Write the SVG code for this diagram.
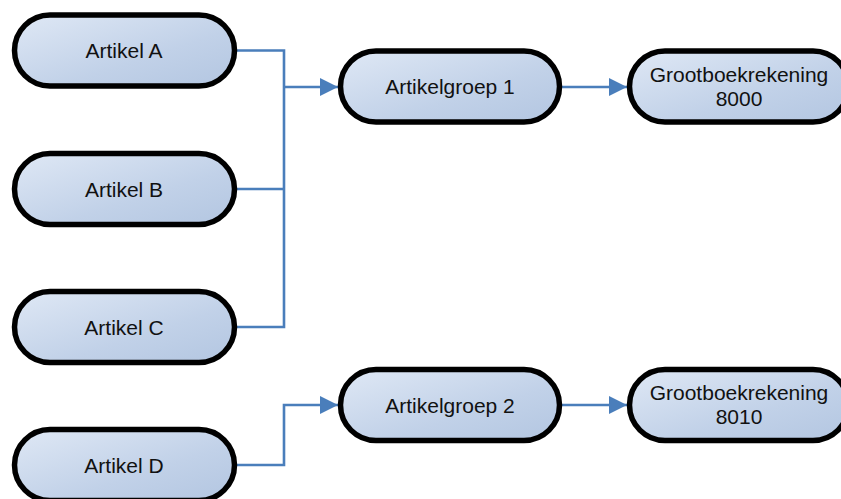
<svg xmlns="http://www.w3.org/2000/svg" width="841" height="499" viewBox="0 0 841 499">
<defs>
<linearGradient id="g" x1="0" y1="0" x2="1" y2="1">
<stop offset="0" stop-color="#dfe8f5"/>
<stop offset="0.6" stop-color="#c1d1e8"/>
<stop offset="1" stop-color="#b3c6e1"/>
</linearGradient>
<marker id="ah" viewBox="0 0 10 10" refX="10" refY="5" markerWidth="7" markerHeight="7" markerUnits="strokeWidth" orient="auto">
<path d="M0,0 L10,5 L0,10 z" fill="#4a7ebb"/>
</marker>
<style>
.n rect{fill:url(#g);stroke:#000;stroke-width:5.5}
.n text{font-family:"Liberation Sans",Arial,sans-serif;font-size:21px;fill:#111;text-anchor:middle}
.c path{fill:none;stroke:#4a7ebb;stroke-width:2.6}
</style>
</defs>
<rect width="841" height="499" fill="#fff"/>
<g id="connectors" class="c">
<path d="M237,50.5 H284 V327 H237"/>
<path d="M237,189 H284"/>
<path d="M284,87 H338" marker-end="url(#ah)"/>
<path d="M562,87 H627" marker-end="url(#ah)"/>
<path d="M237,465 H284 V405 H338" marker-end="url(#ah)"/>
<path d="M562,405 H627" marker-end="url(#ah)"/>
</g>
<g id="artikelA" class="n"><rect x="14.5" y="15" width="220" height="71" rx="35.5"/><text x="124" y="58">Artikel A</text></g>
<g id="artikelB" class="n"><rect x="14.5" y="153.5" width="220" height="71" rx="35.5"/><text x="124" y="196.5">Artikel B</text></g>
<g id="artikelC" class="n"><rect x="14.5" y="291.5" width="220" height="71" rx="35.5"/><text x="124" y="334.5">Artikel C</text></g>
<g id="artikelD" class="n"><rect x="14.5" y="429.5" width="220" height="71" rx="35.5"/><text x="124" y="472.5">Artikel D</text></g>
<g id="artikelgroep1" class="n"><rect x="340.5" y="51" width="219" height="71" rx="35.5"/><text x="450" y="94">Artikelgroep 1</text></g>
<g id="artikelgroep2" class="n"><rect x="340.5" y="369.5" width="219" height="71" rx="35.5"/><text x="450" y="412.5">Artikelgroep 2</text></g>
<g id="gb8000" class="n"><rect x="629.5" y="51" width="219" height="71" rx="35.5"/><text x="739" y="82">Grootboekrekening</text><text x="739" y="106">8000</text></g>
<g id="gb8010" class="n"><rect x="629.5" y="369.5" width="219" height="71" rx="35.5"/><text x="739" y="400">Grootboekrekening</text><text x="739" y="424">8010</text></g>
</svg>
